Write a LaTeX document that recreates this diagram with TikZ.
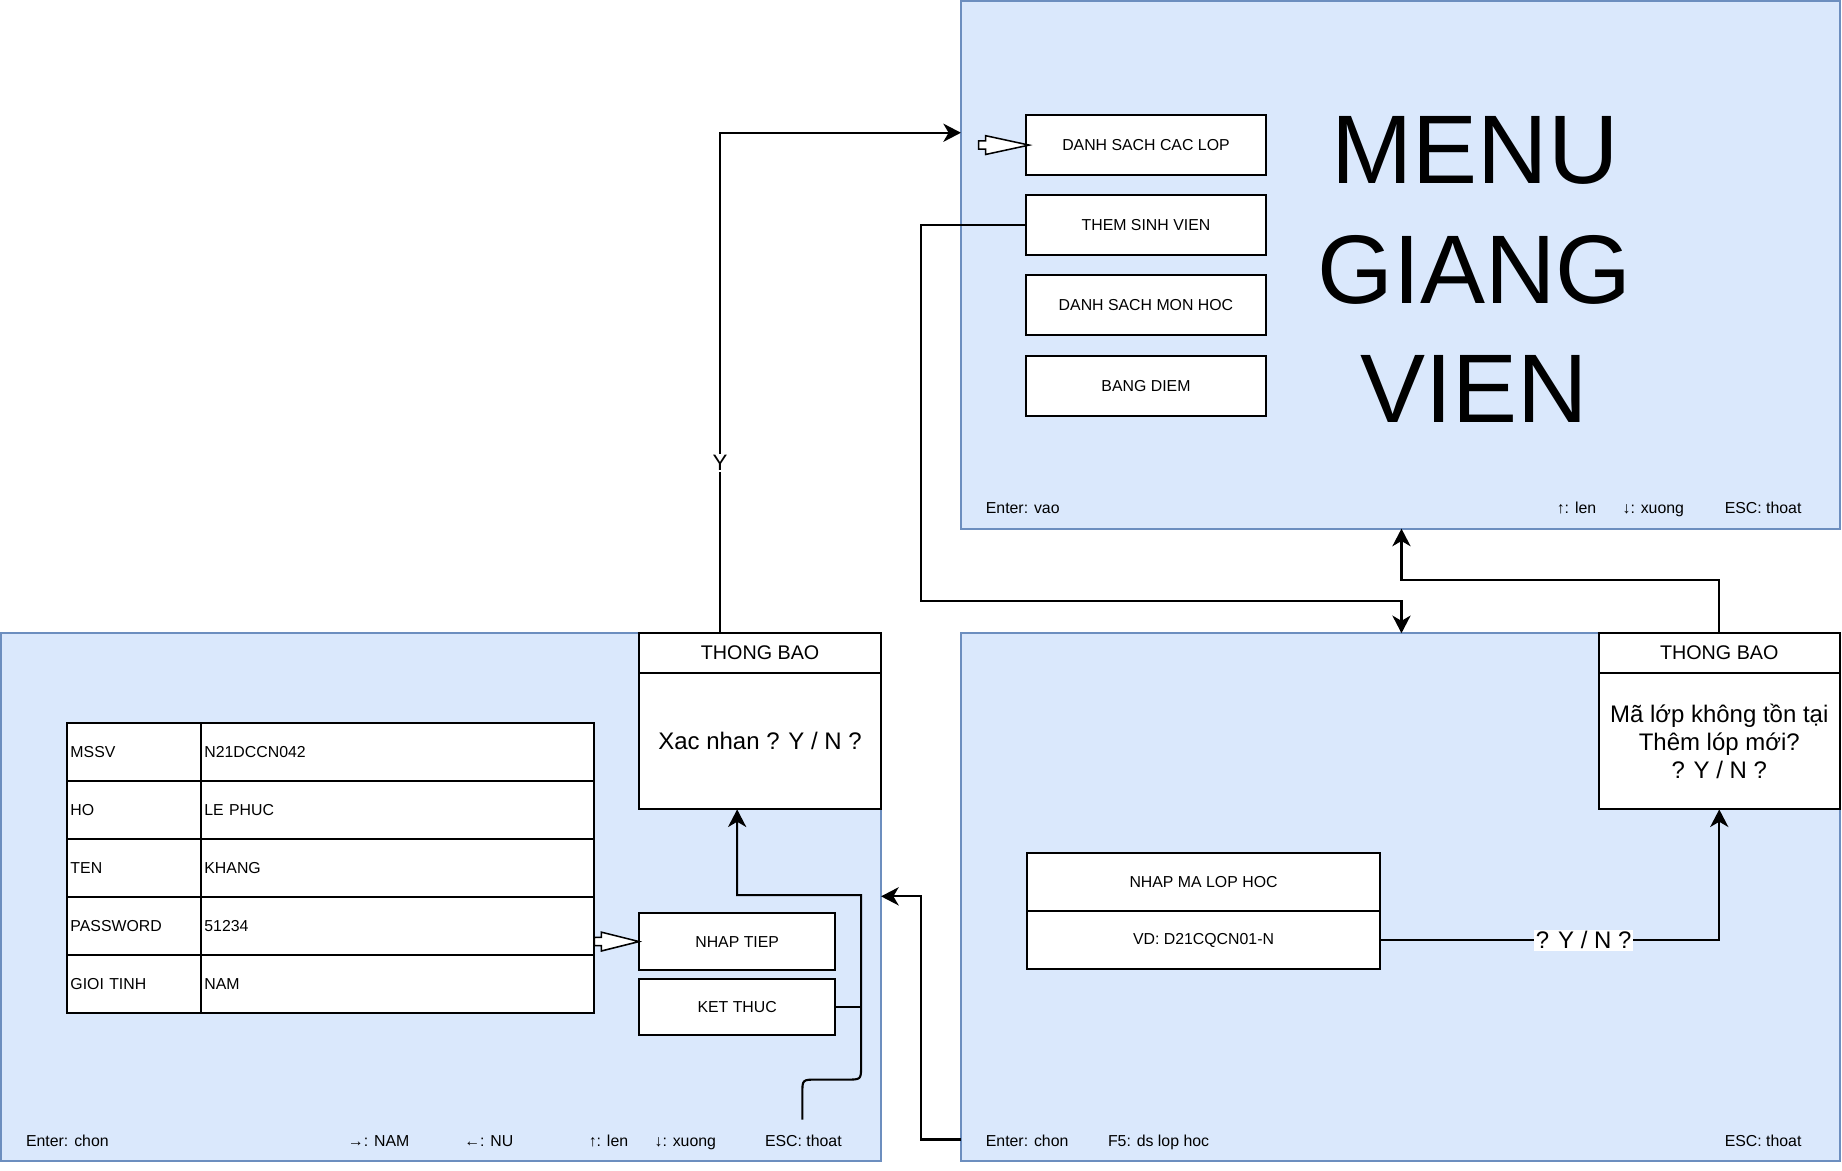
\documentclass[tikz,border=0pt]{standalone}
\usepackage{fontspec}
\setmainfont{Liberation Sans}
\usetikzlibrary{arrows.meta,calc,positioning}

\definecolor{screenblue}{HTML}{DAE8FC}
\definecolor{screenline}{HTML}{6C8EBF}

\newcommand{\keyfont}{\fontsize{13.5pt}{16pt}\selectfont}
\newcommand{\headfont}{\fontsize{16.8pt}{20pt}\selectfont}
\newcommand{\msgfont}{\fontsize{20.4pt}{24pt}\selectfont}
\newcommand{\titlefont}{\fontsize{83pt}{102pt}\selectfont}

% hollow selection arrow: #1 tail point, #2 tip
\newcommand{\blockarrow}[2]{%
  \draw[hollow] ($(#1)+(0,-3.5)$) -- ($(#1)+(6,-3.5)$) -- ($(#1)+(6,-8)$) -- (#2)
    -- ($(#1)+(6,8)$) -- ($(#1)+(6,3.5)$) -- ($(#1)+(0,3.5)$) -- cycle;}

\begin{document}
\begin{tikzpicture}[x=1pt,y=-1pt,
    screen/.style={draw=screenline, fill=screenblue, line width=1.5pt, anchor=north west,
      inner sep=0pt, outer sep=0pt},
    box/.style={draw=black, fill=white, line width=1.8pt, anchor=north west,
      inner sep=0pt, outer sep=0pt, font=\keyfont},
    cell/.style={box, align=left, inner xsep=3pt, minimum height=49.3pt},
    conn/.style={line width=1.8pt, -{Stealth[length=15pt,width=15.5pt,inset=4.5pt]}},
    wire/.style={line width=1.8pt},
    hollow/.style={draw=black, fill=white, line width=1.3pt, line join=miter},
    keytext/.style={anchor=base west, inner sep=0pt, font=\keyfont},
    lbl/.style={fill=white, inner sep=1.5pt}]

  \fill[white] (0,0) rectangle (1568,996);
  \useasboundingbox (0,0) rectangle (1568,996);

  % Screens
  \node[screen, minimum width=748pt, minimum height=449pt] (scrM) at (818,1) {};
  \node[screen, minimum width=749pt, minimum height=449pt] (scrS) at (1,539) {};
  \node[screen, minimum width=748pt, minimum height=449pt] (scrL) at (818,539) {};

  % Menu giang vien
  \foreach \y/\t [count=\i] in {98/DANH SACH CAC LOP, 166/THEM SINH VIEN,
      234/DANH SACH MON HOC, 303/BANG DIEM}
    \node[box, minimum width=205pt, minimum height=51pt] (m\i) at (873,\y) {\t};

  \node[anchor=base, inner sep=0pt, font=\titlefont] (title1) at (1255.5,156) {MENU};
  \node[anchor=base, inner sep=0pt, font=\titlefont] (title2) at (1255,258.5) {GIANG};
  \node[anchor=base, inner sep=0pt, font=\titlefont] (title3) at (1255,360) {VIEN};

  \coordinate (selM) at ($(m1.west)+(-40,0)$);
  \blockarrow{selM}{$(m1.west)+(3,0)$}

  \node[keytext] (kM1) at (839,437) {Enter: vao};
  \node[keytext] (kM2) at (1325,437) {↑: len};
  \node[keytext] (kM3) at (1381,437) {↓: xuong};
  \node[keytext] (kM4) at (1468,437) {ESC: thoat};

  % Nhap sinh vien
  \foreach \lab/\val [count=\i] in {MSSV/N21DCCN042, HO/LE PHUC, TEN/KHANG,
      PASSWORD/51234, GIOI TINH/NAM} {
    \node[cell, text width=108pt] (lab\i) at (57,{615.5+(\i-1)*49.3}) {\lab};
    \node[cell, text width=329pt] (val\i) at (171,{615.5+(\i-1)*49.3}) {\val};
  }

  \node[box, minimum width=167pt, minimum height=49pt] (nhap) at (544,777) {NHAP TIEP};
  \node[box, minimum width=167pt, minimum height=48pt] (ket) at (544,833) {KET THUC};

  \coordinate (selS) at (val4.east |- nhap.west);
  \blockarrow{selS}{nhap.west}

  \node[box, minimum width=206pt, minimum height=34pt, font=\headfont] (tbSh) at (544,539) {THONG BAO};
  \node[box, minimum width=206pt, minimum height=116pt, font=\msgfont] (tbSb) at (544,573) {Xac nhan ? Y / N ?};

  \node[keytext] (kS1) at (22,976) {Enter: chon};
  \node[keytext] (kS2) at (296,976) {→: NAM};
  \node[keytext] (kS3) at (395,976) {←: NU};
  \node[keytext] (kS4) at (501,976) {↑: len};
  \node[keytext] (kS5) at (557,976) {↓: xuong};
  \node[keytext] (kS6) at (651,976) {ESC: thoat};

  % Nhap ma lop
  \node[box, minimum width=301pt, minimum height=49.5pt] (ma) at (874,726) {NHAP MA LOP HOC};
  \node[box, minimum width=301pt, minimum height=49.5pt] (vd) at (874,775.5) {VD: D21CQCN01-N};

  \node[box, minimum width=205pt, minimum height=34pt, font=\headfont] (tbLh) at (1361,539) {THONG BAO};
  \node[box, minimum width=205pt, minimum height=116pt, font=\msgfont, align=center] (tbLb) at (1361,573)
    {Mã lớp không tồn tại\\Thêm lóp mới?\\? Y / N ?};

  \node[keytext] (kL1) at (839,976) {Enter: chon};
  \node[keytext] (kL2) at (943,976) {F5: ds lop hoc};
  \node[keytext] (kL3) at (1468,976) {ESC: thoat};

  % Connectors
  \coordinate (yOut) at (613,539);
  \coordinate (yIn) at (818,113);
  \draw[conn] (yOut) |- node[pos=0.17, lbl, font=\fontsize{19pt}{22pt}\selectfont] (yLbl) {Y} (yIn);

  \coordinate (lIn) at (1193,539);
  \draw[conn] (m2.west) -- ++(-89,0) -- ++(0,320) -| (lIn);

  \coordinate (mIn) at (1193,450);
  \draw[conn] (tbLh.north) -- ++(0,-45) -| (mIn);

  \draw[conn] (vd.east) -| node[pos=0.3, lbl, font=\msgfont] (ynLbl) {? Y / N ?} (tbLb.south);

  \coordinate (retL) at (818,970);
  \coordinate (sIn) at (750,763);
  \draw[conn] (retL) -- ++(-34,0) |- (sIn);

  \coordinate (escTop) at (683,953);
  \coordinate (escUp) at (733,762);
  \draw[conn] (escTop) -- (683,931) .. controls (683,919) .. (695,919) -- (721,919)
    .. controls (733,919) .. (733,907) -- (escUp) -| (nhap.north |- tbSb.south);
  \draw[wire] (ket.east) -- (escUp |- ket.east);
\end{tikzpicture}
\end{document}
